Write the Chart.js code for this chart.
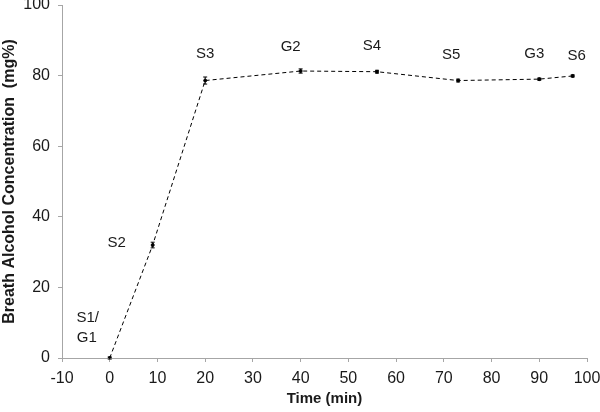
<!DOCTYPE html>
<html>
<head>
<meta charset="utf-8">
<script src="https://cdn.jsdelivr.net/npm/chart.js@4"></script>
<style>
  html, body { margin: 0; padding: 0; background: #fff; }
  #wrap { width: 600px; height: 412px; position: relative; }
</style>
</head>
<body>
<div id="wrap"><canvas id="bacChart"></canvas></div>
<script>
// sample times (min) and breath alcohol readings (mg%)
const sampleNames = ['S1/G1', 'S2', 'S3', 'G2', 'S4', 'S5', 'G3', 'S6'];
const timeMin = [0, 9, 20, 40, 56, 73, 90, 97];
const breathAlcohol = [0, 32, 78.6, 81.3, 81.1, 78.6, 79.0, 79.9];
const errorMg = [0.3, 0.8, 1.0, 0.6, 0.4, 0.4, 0.3, 0.3];
const xTicks = [-10, 0, 10, 20, 30, 40, 50, 60, 70, 80, 90, 100];
const yTicks = [0, 20, 40, 60, 80, 100];

// label offsets from each point, in pixels
const labelOffsets = [[-22, -30], [-36, -2], [0, -27], [-10, -24], [-5, -26], [-7, -26], [-5, -25], [4, -20]];

const FONT = "'Liberation Sans', Arial, sans-serif";
const AXIS_GRAY = '#a6a6a6';
const TEXT = '#1a1a1a';

const points = timeMin.map((t, i) => ({ x: t, y: breathAlcohol[i] }));

const errorBars = {
    id: 'errorBars',
    afterDatasetsDraw(chart) {
        const { ctx, scales: { x, y } } = chart;
        ctx.save();
        ctx.strokeStyle = '#000';
        ctx.lineWidth = 1;
        points.forEach((p, i) => {
            const px = x.getPixelForValue(p.x);
            const top = y.getPixelForValue(p.y + errorMg[i]);
            const bot = y.getPixelForValue(p.y - errorMg[i]);
            ctx.beginPath();
            ctx.moveTo(px, top); ctx.lineTo(px, bot);
            ctx.moveTo(px - 2, top); ctx.lineTo(px + 2, top);
            ctx.moveTo(px - 2, bot); ctx.lineTo(px + 2, bot);
            ctx.stroke();
        });
        ctx.restore();
    }
};

const pointLabels = {
    id: 'pointLabels',
    afterDatasetsDraw(chart) {
        const { ctx, scales: { x, y } } = chart;
        ctx.save();
        ctx.fillStyle = TEXT;
        ctx.font = '15px ' + FONT;
        ctx.textAlign = 'center';
        ctx.textBaseline = 'middle';
        points.forEach((p, i) => {
            const px = x.getPixelForValue(p.x) + labelOffsets[i][0];
            const py = y.getPixelForValue(p.y) + labelOffsets[i][1];
            const lines = sampleNames[i].split('/');
            if (lines.length > 1) {
                ctx.fillText(lines[0] + '/', px, py - 10);
                ctx.fillText(lines[1], px - 1, py + 10);
            } else {
                ctx.fillText(lines[0], px, py);
            }
        });
        ctx.restore();
    }
};

new Chart(document.getElementById('bacChart'), {
    type: 'scatter',
    data: {
        datasets: [{
            data: points,
            showLine: true,
            borderColor: '#000',
            borderWidth: 1,
            borderDash: [4, 3],
            tension: 0,
            pointRadius: 1.5,
            pointBackgroundColor: '#000',
            pointBorderColor: '#000'
        }]
    },
    options: {
        responsive: true,
        maintainAspectRatio: false,
        animation: false,
        layout: { padding: { top: 5, right: 13, left: 0, bottom: 0 } },
        plugins: {
            legend: { display: false },
            tooltip: { enabled: false }
        },
        scales: {
            x: {
                type: 'linear',
                min: -10, max: 100,
                afterBuildTicks: s => { s.ticks = xTicks.map(v => ({ value: v })); },
                afterFit: s => { s.height = 54; s.paddingLeft = 0; s.paddingRight = 0; },
                grid: { drawOnChartArea: false, color: AXIS_GRAY, tickLength: 4 },
                border: { color: AXIS_GRAY },
                ticks: { color: TEXT, font: { family: FONT, size: 16 }, padding: 7, maxRotation: 0 },
                title: {
                    display: true, text: 'Time (min)', color: TEXT,
                    font: { family: FONT, size: 15, weight: 'bold' },
                    padding: { top: 0, bottom: 4 }
                }
            },
            y: {
                min: 0, max: 100,
                afterBuildTicks: s => { s.ticks = yTicks.map(v => ({ value: v })); },
                afterFit: s => { s.width = 62; s.paddingTop = 0; s.paddingBottom = 0; },
                grid: { drawOnChartArea: false, color: AXIS_GRAY, tickLength: 4 },
                border: { color: AXIS_GRAY },
                ticks: { color: TEXT, font: { family: FONT, size: 16 }, padding: 8 },
                title: {
                    display: true, text: 'Breath Alcohol Concentration  (mg%)', color: TEXT,
                    font: { family: FONT, size: 16, weight: 'bold' },
                    padding: { top: 0, bottom: 0 }
                }
            }
        }
    },
    plugins: [errorBars, pointLabels]
});
</script>
</body>
</html>
